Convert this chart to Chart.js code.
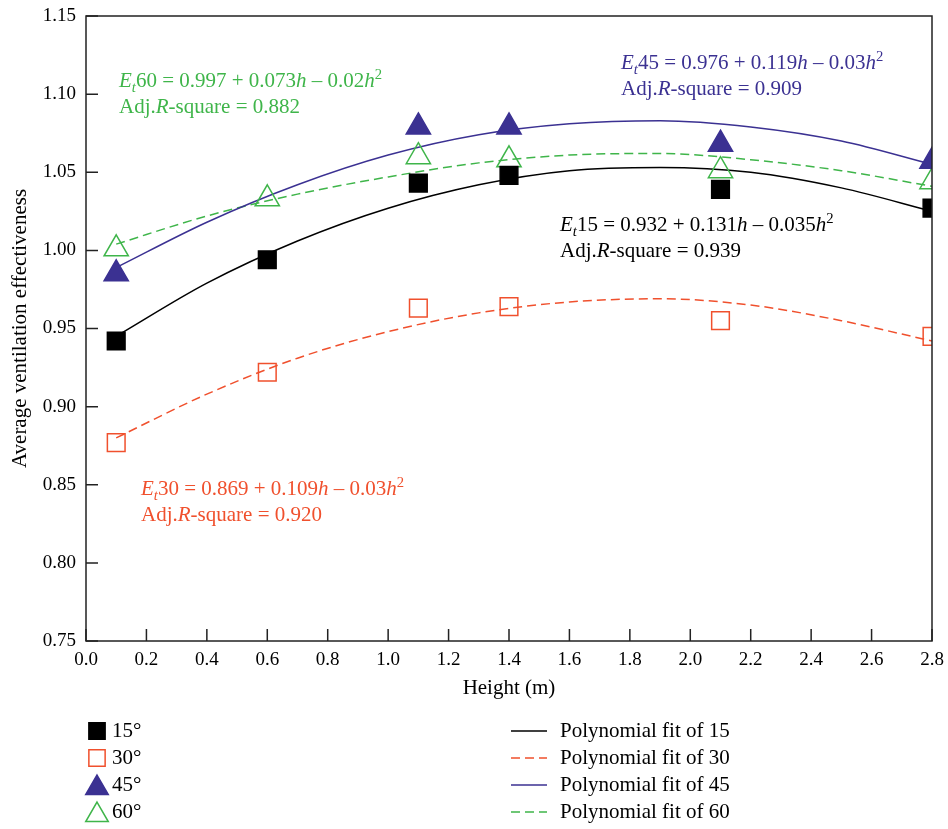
<!DOCTYPE html>
<html>
<head>
<meta charset="utf-8">
<script src="https://cdn.jsdelivr.net/npm/chart.js@4.4.1/dist/chart.umd.min.js"></script>
<style>
  html, body { margin: 0; padding: 0; background: #fff; }
  #wrap { width: 948px; height: 829px; }
</style>
</head>
<body>
<div id="wrap"><canvas id="chart"></canvas></div>
<script>
// measured points (Height in m)
var heights = [0.1, 0.6, 1.1, 1.4, 2.1, 2.8];
var deg15 = [0.942, 0.994, 1.043, 1.048, 1.039, 1.027];
var deg30 = [0.877, 0.922, 0.963, 0.964, 0.955, 0.945];
var deg45 = [0.985, null, 1.079, 1.079, 1.068, 1.057];
var deg60 = [1.001, 1.033, 1.060, 1.058, 1.051, 1.044];

// fitted curves
var fitH = [0.1, 0.4, 0.7, 1.0, 1.3, 1.6, 1.9, 2.2, 2.5, 2.8];
var fit15 = [0.945, 0.979, 1.006, 1.027, 1.042, 1.051, 1.053, 1.050, 1.040, 1.025];
var fit30 = [0.880, 0.908, 0.931, 0.948, 0.960, 0.967, 0.969, 0.965, 0.955, 0.942];
var fit45 = [0.989, 1.018, 1.042, 1.061, 1.074, 1.081, 1.083, 1.079, 1.070, 1.055];
var fit60 = [1.004, 1.022, 1.036, 1.047, 1.056, 1.061, 1.062, 1.058, 1.051, 1.041];

var yTicks = [0.75, 0.80, 0.85, 0.90, 0.95, 1.00, 1.05, 1.10, 1.15];
var xTicks = [0.0, 0.2, 0.4, 0.6, 0.8, 1.0, 1.2, 1.4, 1.6, 1.8, 2.0, 2.2, 2.4, 2.6, 2.8];

var BLACK = '#000000';
var RED = '#f0502d';
var BLUE = '#3b3192';
var GREEN = '#3fb54a';
var SERIF = '"Liberation Serif", "DejaVu Serif", serif';
var TXT = 21; // label text size

function pts(xs, ys) {
  return xs.map(function (x, i) { return { x: x, y: ys[i] }; });
}

function markerSet(label, ys, style, color, fill, r) {
  return {
    label: label,
    data: pts(heights, ys),
    showLine: false,
    pointStyle: style,
    pointRadius: r,
    pointHoverRadius: r,
    pointBorderWidth: 1.5,
    pointBorderColor: color,
    pointBackgroundColor: fill,
    borderColor: color,
    backgroundColor: fill,
    order: 0
  };
}

function fitSet(label, ys, color, dash) {
  return {
    label: label,
    data: pts(fitH, ys),
    showLine: true,
    borderColor: color,
    borderWidth: 1.5,
    borderDash: dash,
    pointRadius: 0,
    pointHoverRadius: 0,
    cubicInterpolationMode: 'monotone',
    fill: false,
    order: 1
  };
}

// equation labels: [text, style] with style '', 'i', 'sub', 'sup'
var notes = [
  { x: 119, y: 87, color: GREEN, lines: [
    [['E', 'i'], ['t', 'sub'], ['60 = 0.997 + 0.073', ''], ['h', 'i'], [' \u2013 0.02', ''], ['h', 'i'], ['2', 'sup']],
    [['Adj.', ''], ['R', 'i'], ['-square = 0.882', '']] ] },
  { x: 621, y: 69, color: BLUE, lines: [
    [['E', 'i'], ['t', 'sub'], ['45 = 0.976 + 0.119', ''], ['h', 'i'], [' \u2013 0.03', ''], ['h', 'i'], ['2', 'sup']],
    [['Adj.', ''], ['R', 'i'], ['-square = 0.909', '']] ] },
  { x: 560, y: 231, color: BLACK, lines: [
    [['E', 'i'], ['t', 'sub'], ['15 = 0.932 + 0.131', ''], ['h', 'i'], [' \u2013 0.035', ''], ['h', 'i'], ['2', 'sup']],
    [['Adj.', ''], ['R', 'i'], ['-square = 0.939', '']] ] },
  { x: 141, y: 495, color: RED, lines: [
    [['E', 'i'], ['t', 'sub'], ['30 = 0.869 + 0.109', ''], ['h', 'i'], [' \u2013 0.03', ''], ['h', 'i'], ['2', 'sup']],
    [['Adj.', ''], ['R', 'i'], ['-square = 0.920', '']] ] }
];

function drawRich(ctx, x, y, parts, size) {
  parts.forEach(function (p) {
    var txt = p[0], st = p[1];
    var fs = size, dy = 0, it = false;
    if (st === 'i') it = true;
    if (st === 'sub') { it = true; fs = size * 0.7; dy = size * 0.22; }
    if (st === 'sup') { fs = size * 0.7; dy = -size * 0.4; }
    ctx.font = (it ? 'italic ' : '') + fs + 'px ' + SERIF;
    ctx.fillText(txt, x, y + dy);
    x += ctx.measureText(txt).width;
  });
}

function legendMarker(ctx, m, x, y) {
  ctx.save();
  ctx.fillStyle = m.pointBackgroundColor;
  ctx.strokeStyle = m.pointBorderColor;
  ctx.lineWidth = 1.5;
  var tri = m.pointStyle === 'triangle';
  Chart.helpers.drawPoint(ctx, {
    pointStyle: m.pointStyle,
    radius: tri ? 13 : 11.5,
    borderWidth: 1.5,
    rotation: 0
  }, x, tri ? y + 3 : y);
  ctx.restore();
}

var decor = {
  id: 'decor',
  afterDraw: function (chart) {
    var ctx = chart.ctx;
    var a = chart.chartArea;
    var xs = chart.scales.x, ys = chart.scales.y;
    ctx.save();

    // frame and inward ticks
    ctx.strokeStyle = '#222';
    ctx.lineWidth = 1.5;
    ctx.strokeRect(a.left, a.top, a.right - a.left, a.bottom - a.top);
    ctx.beginPath();
    xTicks.forEach(function (v) {
      var px = xs.getPixelForValue(v);
      ctx.moveTo(px, a.bottom);
      ctx.lineTo(px, a.bottom - 12);
    });
    yTicks.forEach(function (v) {
      var py = ys.getPixelForValue(v);
      ctx.moveTo(a.left, py);
      ctx.lineTo(a.left + 12, py);
    });
    ctx.stroke();

    // equations
    ctx.textAlign = 'left';
    ctx.textBaseline = 'alphabetic';
    notes.forEach(function (n) {
      ctx.fillStyle = n.color;
      n.lines.forEach(function (ln, i) {
        drawRich(ctx, n.x, n.y + i * 26, ln, TXT);
      });
    });

    // legend, two columns
    var ds = chart.data.datasets;
    ctx.font = TXT + 'px ' + SERIF;
    ctx.textBaseline = 'middle';
    for (var i = 0; i < 4; i++) {
      var y = 731 + i * 27;
      var m = ds[i];
      legendMarker(ctx, m, 97, y);
      ctx.fillStyle = BLACK;
      ctx.fillText(m.label, 112, y);

      var f = ds[i + 4];
      ctx.strokeStyle = f.borderColor;
      ctx.lineWidth = 1.5;
      ctx.setLineDash(f.borderDash || []);
      ctx.beginPath();
      ctx.moveTo(511, y);
      ctx.lineTo(547, y);
      ctx.stroke();
      ctx.setLineDash([]);
      ctx.fillStyle = BLACK;
      ctx.fillText(f.label, 560, y);
    }
    ctx.restore();
  }
};

Chart.defaults.font.family = SERIF;
Chart.defaults.color = BLACK;

var chart = new Chart(document.getElementById('chart'), {
  type: 'scatter',
  data: {
    datasets: [
      markerSet('15\u00b0', deg15, 'rect', BLACK, BLACK, 12.5),
      markerSet('30\u00b0', deg30, 'rect', RED, 'rgba(0,0,0,0)', 12.5),
      markerSet('45\u00b0', deg45, 'triangle', BLUE, BLUE, 14),
      markerSet('60\u00b0', deg60, 'triangle', GREEN, 'rgba(0,0,0,0)', 14),
      fitSet('Polynomial fit of 15', fit15, BLACK, []),
      fitSet('Polynomial fit of 30', fit30, RED, [9, 5]),
      fitSet('Polynomial fit of 45', fit45, BLUE, []),
      fitSet('Polynomial fit of 60', fit60, GREEN, [9, 5])
    ]
  },
  options: {
    responsive: true,
    maintainAspectRatio: false,
    animation: false,
    layout: { padding: { left: 0, top: 16, right: 16, bottom: 128 } },
    plugins: {
      legend: { display: false },
      tooltip: { enabled: false }
    },
    scales: {
      x: {
        type: 'linear',
        min: 0,
        max: 2.8,
        afterFit: function (s) { s.height = 60; s.paddingLeft = 0; s.paddingRight = 0; },
        afterBuildTicks: function (s) { s.ticks = xTicks.map(function (v) { return { value: v }; }); },
        grid: { display: false, drawTicks: false },
        border: { display: false },
        ticks: {
          padding: 8,
          font: { size: 19 },
          maxRotation: 0,
          callback: function (v) { return Number(v).toFixed(1); }
        },
        title: { display: true, text: 'Height (m)', font: { size: TXT }, padding: 0 }
      },
      y: {
        min: 0.75,
        max: 1.15,
        afterFit: function (s) { s.width = 86; s.paddingTop = 0; s.paddingBottom = 0; },
        afterBuildTicks: function (s) { s.ticks = yTicks.map(function (v) { return { value: v }; }); },
        grid: { display: false, drawTicks: false },
        border: { display: false },
        ticks: {
          padding: 10,
          font: { size: 19 },
          callback: function (v) { return Number(v).toFixed(2); }
        },
        title: { display: true, text: 'Average ventilation effectiveness', font: { size: TXT }, padding: { top: 8 } }
      }
    }
  },
  plugins: [decor]
});
</script>
</body>
</html>
